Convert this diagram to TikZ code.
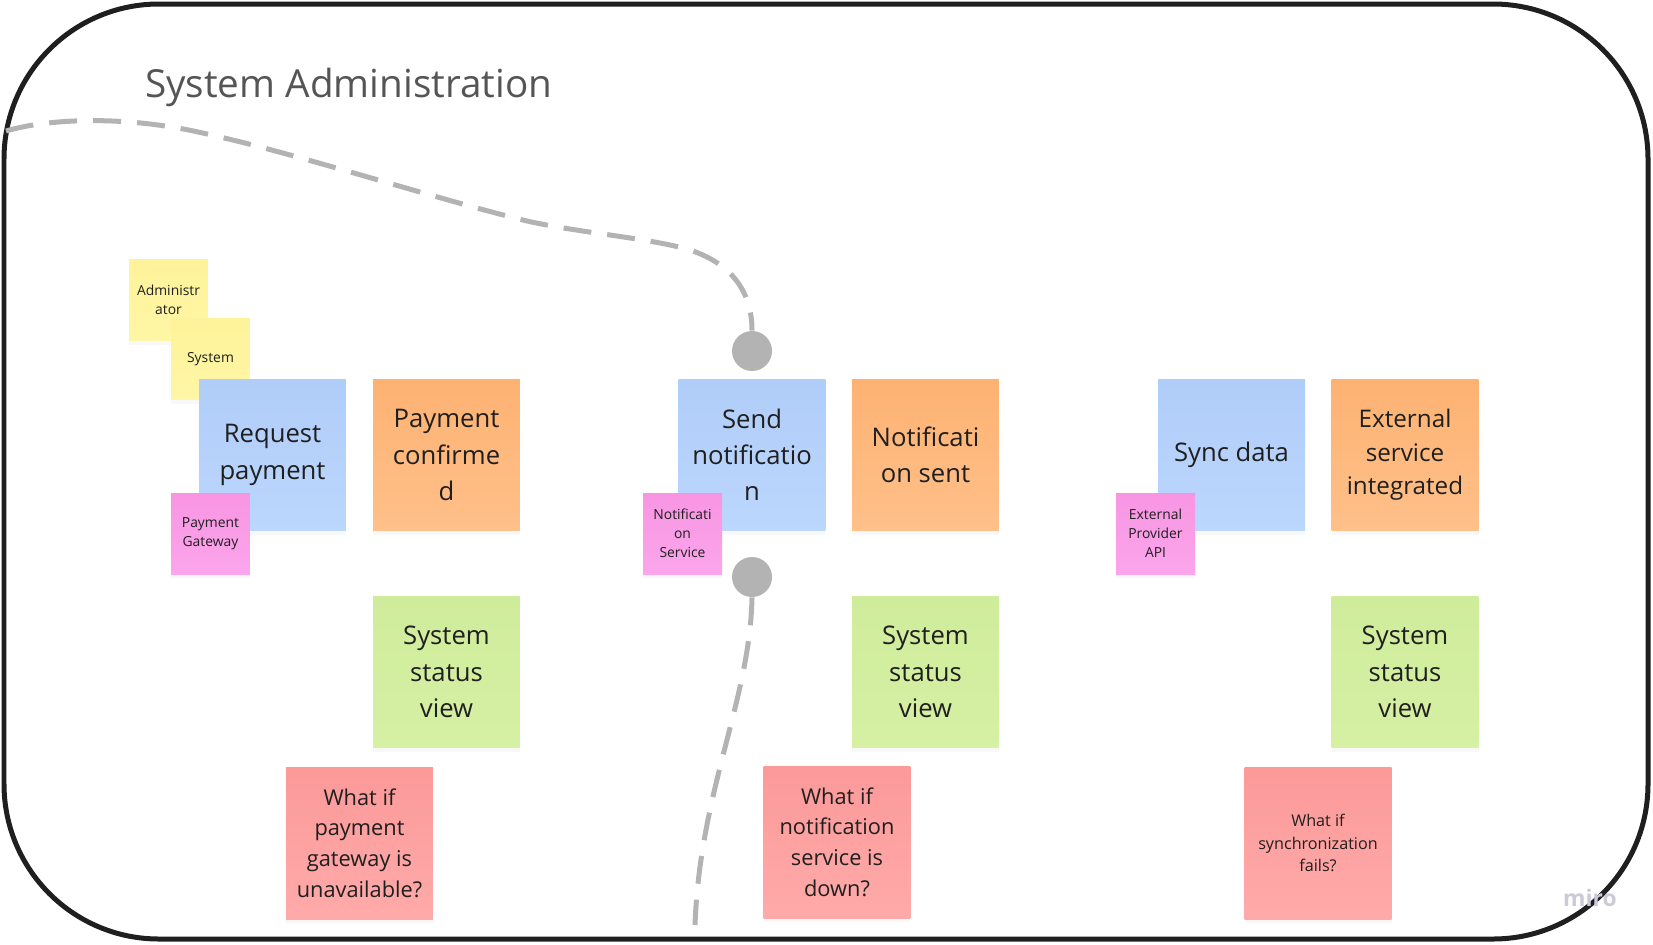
\documentclass[tikz,border=0pt]{standalone}
\usepackage{fontspec}
\setmainfont{Open Sans}
\usetikzlibrary{shadows}

\definecolor{ink}{HTML}{1F1F1F}
\definecolor{titlegray}{HTML}{555555}
\definecolor{lanegray}{HTML}{B3B3B3}
\definecolor{cmdtop}{HTML}{B0CDF9}
\definecolor{cmdbot}{HTML}{BCD7FD}
\definecolor{evttop}{HTML}{FDB272}
\definecolor{evtbot}{HTML}{FFC08A}
\definecolor{viewtop}{HTML}{CFEC9B}
\definecolor{viewbot}{HTML}{D6F0A4}
\definecolor{hottop}{HTML}{FC9999}
\definecolor{hotbot}{HTML}{FFAAAA}
\definecolor{acttop}{HTML}{FEF39A}
\definecolor{actbot}{HTML}{FFF6A6}
\definecolor{exttop}{HTML}{F895E2}
\definecolor{extbot}{HTML}{FBA5EC}
\definecolor{mirogray}{HTML}{CACAD8}

\tikzset{
  sticky/.style={inner sep=0pt, align=center, text=ink,
    font=\fontsize{14.6}{20.6}\selectfont,
    drop shadow={shadow xshift=0pt, shadow yshift=-2.5pt, opacity=0.06}},
  big/.style={sticky, minimum width=2.94cm, minimum height=3.04cm},
  small/.style={sticky, minimum width=1.58cm, minimum height=1.62cm,
    font=\fontsize{7.9}{10.8}\selectfont},
  command/.style={big, top color=cmdtop, bottom color=cmdbot},
  event/.style={big, top color=evttop, bottom color=evtbot},
  readview/.style={big, top color=viewtop, bottom color=viewbot},
  hotspot/.style={big, top color=hottop, bottom color=hotbot,
    font=\fontsize{12.4}{17.4}\selectfont},
  actor/.style={small, top color=acttop, bottom color=actbot},
  extsys/.style={small, top color=exttop, bottom color=extbot},
  lane/.style={draw=lanegray, line width=0.1cm, dash pattern=on 0.56cm off 0.32cm},
  knot/.style={circle, fill=lanegray, minimum size=0.8cm, inner sep=0pt},
  frame/.style={draw=black!88, line width=0.1cm, rounded corners=3.1cm}
}

\begin{document}
\begin{tikzpicture}[x=0.02cm, y=-0.02cm]
  \useasboundingbox (0,0) rectangle (1653,944);

  % boundary of the context
  \draw[frame] (4,4) rectangle (1648,939);
  \node[anchor=base west, text=titlegray, font=\fontsize{22}{26}\selectfont]
    (title) at (139,97) {System Administration};

  % pivotal points
  \node[knot] (kt) at (752,351) {};
  \node[knot] (kb) at (752,577) {};
  \coordinate (lanein) at (6,131);
  \coordinate (laneout) at (695,925);
  \draw[lane] (lanein) .. controls (50,118) and (130,115) .. (211,135)
    .. controls (290,152) and (440,200) .. (527,221)
    .. controls (580,233) and (650,238) .. (690,250)
    .. controls (735,265) and (752,295) .. (kt.north);
  \draw[lane] (kb.south) .. controls (750,700) and (700,790) .. (laneout);

  % payment
  \node[actor] (adm) at (168.5,300) {Administr\\ator};
  \node[actor] (sys) at (210.5,359) {System};
  \node[command] (req) at (272.5,455) {Request\\payment};
  \node[extsys] (pgw) at (210.5,533.5) {Payment\\Gateway};
  \node[event] (pcf) at (446.5,455) {Payment\\confirme\\d};
  \node[readview] (sv1) at (446.5,672) {System\\status\\view};
  \node[hotspot] (hs1) at (359.5,843) {What if\\payment\\gateway is\\unavailable?};

  % notification
  \node[command] (snd) at (752,455) {Send\\notificatio\\n};
  \node[extsys] (nsv) at (682.5,533.5) {Notificati\\on\\Service};
  \node[event] (nst) at (925.5,455) {Notificati\\on sent};
  \node[readview] (sv2) at (925.5,672) {System\\status\\view};
  \node[hotspot] (hs2) at (837,842) {What if\\notification\\service is\\down?};

  % synchronisation
  \node[command] (syn) at (1231.5,455) {Sync data};
  \node[extsys] (epa) at (1155.5,533.5) {External\\Provider\\API};
  \node[event, font=\fontsize{13.8}{19}\selectfont] (esi) at (1405,455) {External\\service\\integrated};
  \node[readview] (sv3) at (1405,672) {System\\status\\view};
  \node[hotspot, font=\fontsize{9.2}{13}\selectfont] (hs3) at (1318,843) {What if\\synchronization\\fails?};

  \node[anchor=base west, text=mirogray, font=\bfseries\fontsize{13}{15}\selectfont]
    (mark) at (1557,906) {miro};
\end{tikzpicture}
\end{document}
